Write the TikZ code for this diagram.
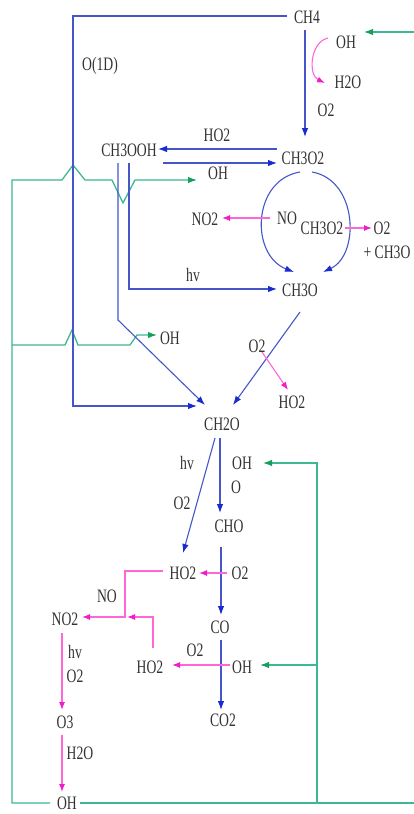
\documentclass[tikz,border=0pt]{standalone}
\usepackage{fontspec}
\setmainfont{Liberation Serif}[FakeStretch=0.72]
\usetikzlibrary{arrows.meta,calc}
\definecolor{txt}{HTML}{333333}
\definecolor{bline}{HTML}{4656C8}
\definecolor{bhead}{HTML}{1A2BD0}
\definecolor{mline}{HTML}{FF66D8}
\definecolor{mhead}{HTML}{EE1FC8}
\definecolor{gline}{HTML}{3DB894}
\definecolor{ghead}{HTML}{13A05C}
\begin{document}
\begin{tikzpicture}[x=1pt,y=-1pt,
  lbl/.style={font=\fontsize{19}{19}\selectfont, text=txt, inner sep=0pt},
  bl/.style={draw=bline, line width=1.1pt},
  bla/.style={bl, -{Latex[length=9pt,width=6.5pt,color=bhead]}},
  ml/.style={draw=mline, line width=1.1pt},
  mla/.style={ml, -{Latex[length=8pt,width=6pt,color=mhead]}},
  gl/.style={draw=gline, line width=1.3pt},
  gla/.style={gl, -{Latex[length=9pt,width=6.5pt,color=ghead]}},
]
\useasboundingbox[fill=white] (0,0) rectangle (414,814);

% labels
\node[lbl] (ch4) at (307,17) {CH4};
\node[lbl] (o1d) at (100,66) {O(1D)};
\node[lbl] (ohA) at (346,42) {OH};
\node[lbl] (h2oA) at (348,82) {H2O};
\node[lbl] (o2A) at (326,110) {O2};
\node[lbl] (ho2A) at (217,135) {HO2};
\node[lbl] (ch3ooh) at (129,150) {CH3OOH};
\node[lbl] (ch3o2) at (303,158) {CH3O2};
\node[lbl] (ohB) at (218,173) {OH};
\node[lbl] (no2A) at (205,219) {NO2};
\node[lbl] (no) at (287,218) {NO};
\node[lbl] (ch3o2b) at (322,228) {CH3O2};
\node[lbl] (o2B) at (382,228) {O2};
\node[lbl] (pch3o) at (387,252) {+ CH3O};
\node[lbl] (hvA) at (193,275) {hv};
\node[lbl] (ch3o) at (300,290) {CH3O};
\node[lbl] (ohC) at (170,338) {OH};
\node[lbl] (o2C) at (257,346) {O2};
\node[lbl] (ho2B) at (292,402) {HO2};
\node[lbl] (ch2o) at (222,424) {CH2O};
\node[lbl] (hvB) at (187,463) {hv};
\node[lbl] (ohD) at (242,463) {OH};
\node[lbl] (oD) at (236,487) {O};
\node[lbl] (o2D) at (182,503) {O2};
\node[lbl] (cho) at (229,526) {CHO};
\node[lbl] (ho2C) at (183,573) {HO2};
\node[lbl] (o2E) at (240,573) {O2};
\node[lbl] (noE) at (107,596) {NO};
\node[lbl] (no2) at (65,619) {NO2};
\node[lbl] (co) at (220,627) {CO};
\node[lbl] (o2F) at (195,650) {O2};
\node[lbl] (hvF) at (75,652) {hv};
\node[lbl] (ho2D) at (150,667) {HO2};
\node[lbl] (ohF) at (242,667) {OH};
\node[lbl] (o2G) at (75,676) {O2};
\node[lbl] (co2) at (223,720) {CO2};
\node[lbl] (o3) at (65,722) {O3};
\node[lbl] (h2oG) at (80,753) {H2O};
\node[lbl] (ohG) at (67,803) {OH};

% named bend / edge coordinates
\coordinate (gin) at (414,32);
\coordinate (gout) at (414,803);
\coordinate (gBL) at (12,803);
\coordinate (gTL) at (12,180);
\coordinate (gML) at (12,345);
\coordinate (gBR) at (317,803);
\coordinate (gMR) at (317,665);
\coordinate (gTR) at (317,463);
\coordinate (bendL) at (73,200);
\coordinate (bendM) at (118,320);
\coordinate (jn) at (125,617);

% green
\draw[gla] (gin) -- ($(ohA)+(18,-10)$);
\draw[gla] ($(ohG)+(-17,0)$) -- (gBL) -- (gTL) -- (62,180) -- (73,165) -- (85,180)
  -- (112,180) -- (123,203) -- (135,180) -- ($(ohB)+(-21,7)$);
\draw[gla] (gML) -- (65,345) -- (72,330) -- (78,345) -- (130,345) -- (137,335)
  -- ($(ohC)+(-13,-3)$);
\draw[gl] ($(ohG)+(13,0)$) -- (gout);
\draw[gla] (gBR) -- (gTR) -- ($(ohD)+(21,0)$);
\draw[gla] (gMR) -- ($(ohF)+(18,-2)$);

% blue
\draw[bla] ($(ch4)+(-20,-1)$) -| (bendL) |- ($(ch2o)+(-25,-18)$);
\draw[bla] ($(ch4)+(-2,13)$) -- ($(ch3o2)+(2,-21)$);
\draw[bla] ($(ch3o2)+(-26,-9)$) -- ($(ch3ooh)+(29,-1)$);
\draw[bla] ($(ch3ooh)+(34,13)$) -- ($(ch3o2)+(-26,5)$);
\draw[bla] ($(ch3ooh)+(0,13)$) |- ($(ch3o)+(-23,-1)$);
\draw[bla] ($(ch3ooh)+(-11,13)$) -- (bendM) -- ($(ch2o)+(-17,-19)$);
\draw[bla] ($(ch3o)+(0,22)$) -- ($(ch2o)+(11,-19)$);
\draw[bla] ($(ch3o2)+(-3,14)$) .. controls (252,180) and (250,255) .. ($(ch3o)+(-6,-18)$);
\draw[bla] ($(ch3o2)+(9,14)$) .. controls (358,180) and (360,255) .. ($(ch3o)+(23,-18)$);
\draw[bla] ($(ch2o)+(-7,14)$) -- ($(ho2C)+(0,-20)$);
\draw[bla] ($(ch2o)+(-2,14)$) -- ($(cho)+(-9,-13)$);
\draw[bla] ($(cho)+(-8,21)$) -- ($(co)+(1,-12)$);
\draw[bla] ($(co)+(1,13)$) -- ($(co2)+(-2,-10)$);

% magenta
\draw[mla] ($(ohA)+(-18,-4)$) .. controls (310,42) and (308,75) .. ($(h2oA)+(-23,1)$);
\draw[mla] ($(no)+(-17,0)$) -- ($(no2A)+(17,-1)$);
\draw[mla] ($(ch3o2b)+(23,0)$) -- ($(o2B)+(-10,0)$);
\draw[mla] ($(o2C)+(5,6)$) -- ($(ho2B)+(-4,-12)$);
\draw[mla] ($(o2E)+(-13,0)$) -- ($(ho2C)+(16,0)$);
\draw[mla] ($(ho2C)+(-20,-2)$) -| (jn) -- ($(no2)+(17,-2)$);
\draw[mla] ($(ho2D)+(3,-19)$) |- ($(jn)+(2,0)$);
\draw[mla] ($(ohF)+(-12,-2)$) -- ($(ho2D)+(22,-2)$);
\draw[mla] ($(no2)+(-3,14)$) -- ($(o3)+(-3,-12)$);
\draw[mla] ($(o3)+(-3,13)$) -- ($(ohG)+(-5,-11)$);
\end{tikzpicture}
\end{document}
